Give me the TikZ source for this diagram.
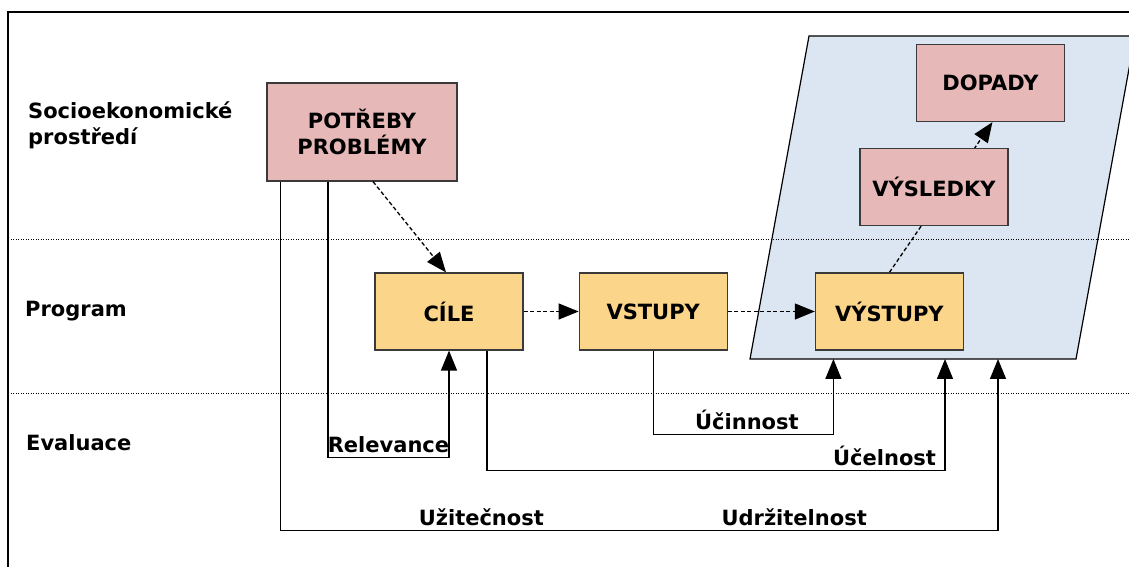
\documentclass[tikz,border=0pt]{standalone}
\usepackage{fontspec}
\setmainfont{DejaVu Sans}
\usepackage{tikz}
\usetikzlibrary{arrows.meta,positioning,backgrounds}
\definecolor{needpink}{HTML}{E6B8B7}
\definecolor{progorange}{HTML}{FAD58A}
\definecolor{zoneblue}{HTML}{DCE6F2}
\definecolor{edgegray}{HTML}{3A3A3A}
\tikzset{
  stagebox/.style={
    rectangle, draw=edgegray, fill=#1, line width=1.2pt,
    minimum width=148pt, minimum height=77pt,
    font=\fontsize{21}{26}\selectfont\bfseries, align=center,
    inner sep=2pt
  },
  stagebox/.default=progorange,
  rowlabel/.style={
    anchor=west, inner sep=0pt, align=left,
    font=\fontsize{21}{26}\selectfont\bfseries
  },
  flowarrow/.style={
    -{Triangle[length=20pt,width=16pt]}, line width=1.3pt,
    dash pattern=on 4pt off 2.5pt
  },
  evalarrow/.style={
    -{Triangle[length=20pt,width=16pt]}, line width=1.3pt
  },
  evallabel/.style={
    above, inner sep=4.5pt, font=\fontsize{21}{24}\selectfont\bfseries
  },
  bandline/.style={line width=1pt, dash pattern=on 1pt off 1.5pt},
}

\begin{document}
\begin{tikzpicture}[x=1pt, y=1pt]
    \useasboundingbox (0,0) rectangle (1129,567);

    % Outer frame (top and left only)
    \draw[line width=1.3pt] (8,0) -- (8,555) -- (1129,555);

    % Outcome zone behind the result boxes
    \begin{scope}[on background layer]
      \draw[fill=zoneblue, line width=1.2pt] (750,208) coordinate (zonesw)
        -- (1076,208) -- (1135,531) -- (809,531) -- cycle;
    \end{scope}

    % Band separators
    \draw[bandline] (8,327) -- (1129,327);
    \draw[bandline] (8,173) -- (1129,173);

    % Row labels
    \node[rowlabel] (socio) at (28,442) {Socioekonomické\\prostředí};
    \node[rowlabel] (program) at (25,256) {Program};
    \node[rowlabel] (evaluace) at (26,124) {Evaluace};

    % Stages
    \node[stagebox=needpink, minimum width=190pt, minimum height=98pt] (potreby) at (362,435) {POTŘEBY\\PROBLÉMY};
    \node[stagebox] (cile) at (449,255.5) {CÍLE};
    \node[stagebox, right=55pt of cile] (vstupy) {VSTUPY};
    \node[stagebox, right=87pt of vstupy] (vystupy) {VÝSTUPY};
    \node[stagebox=needpink, above=46pt of vystupy, xshift=44.5pt] (vysledky) {VÝSLEDKY};
    \node[stagebox=needpink, above=26pt of vysledky, xshift=56.5pt] (dopady) {DOPADY};

    % Logic chain
    \draw[flowarrow] ([xshift=11pt]potreby.south) -- ([xshift=-3pt]cile.north);
    \draw[flowarrow] (cile) -- (vstupy);
    \draw[flowarrow] (vstupy) -- (vystupy);
    \begin{scope}[on background layer]
      \draw[flowarrow] (vystupy.north) -- ([xshift=2pt]dopady.south);
    \end{scope}

    % Evaluation criteria
    \draw[evalarrow] ([xshift=-34pt]potreby.south) -- ++(0,-276)
      -| node[evallabel, pos=0.25] {Relevance} (cile.south);
    \draw[evalarrow] (vstupy.south) -- ++(0,-84)
      -| node[evallabel, pos=0.26] {Účinnost} ([xshift=-56pt]vystupy.south |- zonesw);
    \draw[evalarrow] ([xshift=38pt]cile.south) -- ++(0,-120)
      -| node[evallabel, pos=0.434] {Účelnost} ([xshift=-19pt]vystupy.south east |- zonesw);
    \draw[evalarrow] ([xshift=14pt]potreby.south west) -- ++(0,-349)
      -| node[evallabel, pos=0.14] {Užitečnost}
         node[evallabel, pos=0.358] {Udržitelnost} ([xshift=34pt]vystupy.south east |- zonesw);
\end{tikzpicture}
\end{document}
